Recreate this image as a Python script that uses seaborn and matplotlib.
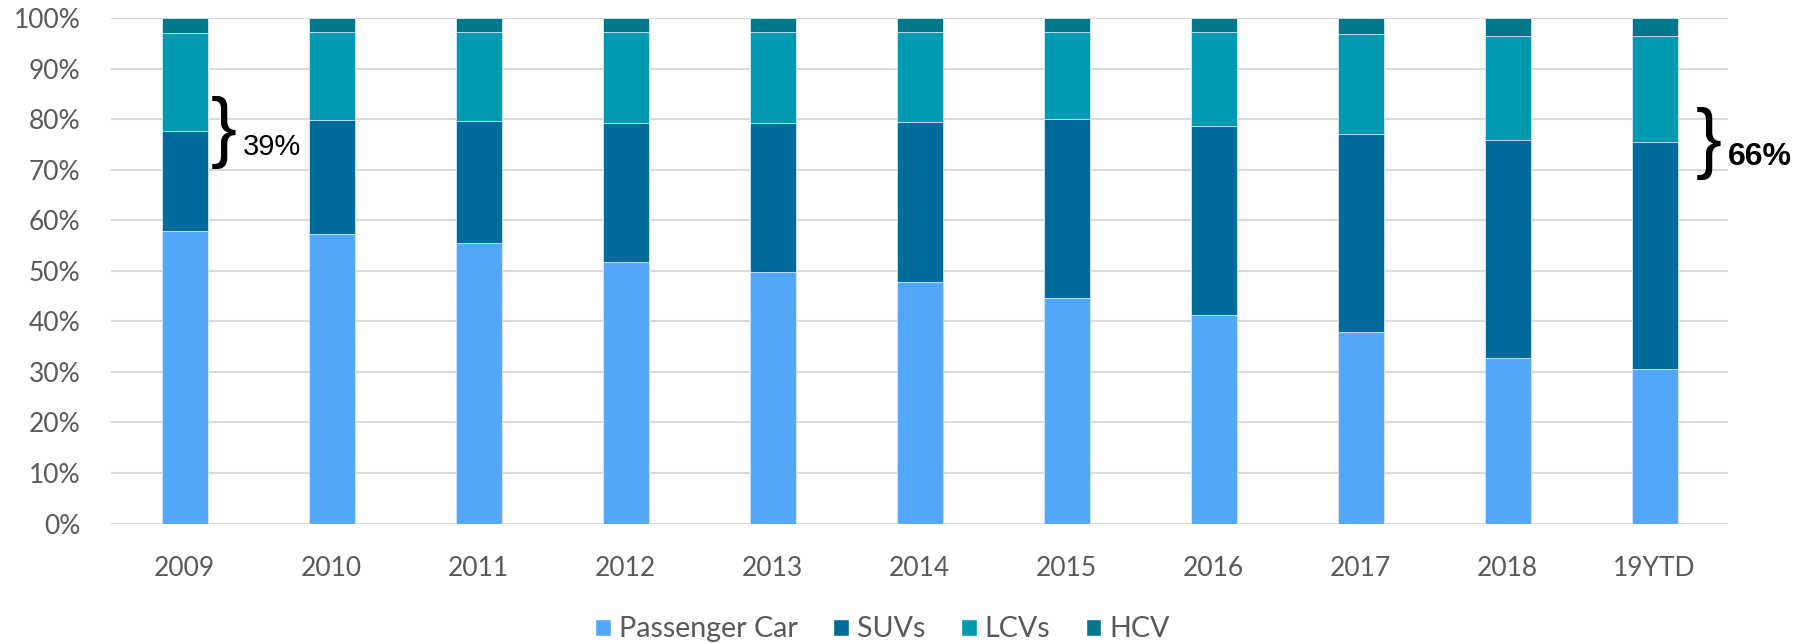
import numpy as np
import pandas as pd
import matplotlib
matplotlib.use('Agg')
import matplotlib.pyplot as plt
from matplotlib.patches import Patch
from matplotlib.ticker import FuncFormatter
import seaborn as sns

# 데이터 (구성비, %)
years = ['2009', '2010', '2011', '2012', '2013', '2014', '2015', '2016', '2017', '2018', '19YTD']
passenger_car = [57.9, 57.2, 55.4, 51.8, 49.7, 47.7, 44.7, 41.3, 37.8, 32.8, 30.6]
suvs = [19.8, 22.7, 24.2, 27.5, 29.5, 31.7, 35.3, 37.3, 39.2, 43.0, 44.8]
lcvs = [19.3, 17.3, 17.6, 17.9, 18.0, 17.9, 17.3, 18.7, 19.8, 20.7, 21.1]
hcv = [3.0, 2.8, 2.8, 2.8, 2.8, 2.7, 2.7, 2.7, 3.2, 3.5, 3.5]

segments = ['Passenger Car', 'SUVs', 'LCVs', 'HCV']
colors = ['#52A7F9', '#006C9B', '#009BB2', '#00788A']

sns.set_style('white')
plt.rcParams['font.family'] = ['Lato', 'DejaVu Sans']

# 누적 합계 (위에서부터 그리기)
df = pd.DataFrame({'Year': years, 'Passenger Car': passenger_car, 'SUVs': suvs,
                   'LCVs': lcvs, 'HCV': hcv})
cum = df[segments].cumsum(axis=1)

fig = plt.figure(figsize=(18.08, 6.43), dpi=100)
ax = fig.add_axes([0.0614, 0.1858, 0.8944, 0.7862])

for seg, col in reversed(list(zip(segments, colors))):
    sns.barplot(x=df['Year'], y=cum[seg], color=col, saturation=1, width=0.313,
                edgecolor='#dbeafa', linewidth=0.6, ax=ax, zorder=3)

ax.set_ylim(0, 100)
ax.set_xlim(-0.5, len(years) - 0.5)
ax.set_yticks(range(0, 101, 10))
ax.yaxis.set_major_formatter(FuncFormatter(lambda v, p: f'{v:.0f}%'))
ax.set_xlabel('')
ax.set_ylabel('')
ax.grid(axis='y', color='#D9D9D9', linewidth=1.5, zorder=0)
ax.set_axisbelow(True)
for s in ax.spines.values():
    s.set_visible(False)
ax.tick_params(axis='y', length=0, pad=22, labelsize=19, labelcolor='#595959')
ax.tick_params(axis='x', length=0, pad=23.5, labelsize=19, labelcolor='#595959')

# 중괄호 주석
ax.text(0.27, 77.3, '}', fontsize=56, family='Liberation Sans', ha='center', va='center', color='black')
ax.text(0.397, 74.5, '39%', fontsize=21, family='Liberation Sans', ha='left', va='center', color='black')
ax.text(10.37, 75.2, '}', fontsize=56, family='Liberation Sans', ha='center', va='center', color='black')
ax.text(10.50, 72.5, '66%', fontsize=23, family='Liberation Sans', fontweight='bold',
        ha='left', va='center', color='black', clip_on=False)

handles = [Patch(facecolor=c, label=s) for s, c in zip(segments, colors)]
fig.legend(handles=handles, loc='center', bbox_to_anchor=(0.488, 0.021), ncol=4, frameon=False,
           fontsize=20.6, labelcolor='#595959', handlelength=0.55, handleheight=0.55,
           handletextpad=0.27, columnspacing=1.25)

fig.savefig('out.png', dpi=100)
